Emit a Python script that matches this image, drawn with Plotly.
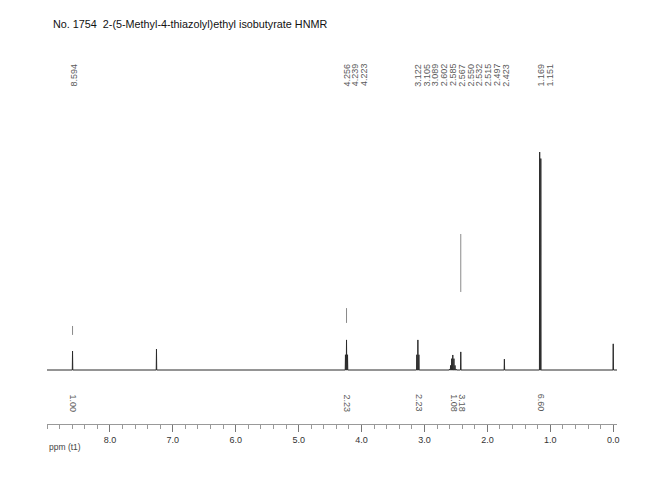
import plotly.graph_objects as go

# ---- data ----
title_text = "No. 1754  2-(5-Methyl-4-thiazolyl)ethyl isobutyrate HNMR"

# spectrum lines: chemical shift (ppm) and relative intensity (tallest = 100)
peak_ppm = [8.594, 7.260, 4.256, 4.239, 4.223, 3.122, 3.105, 3.089,
            2.602, 2.585, 2.567, 2.550, 2.532, 2.515, 2.497, 2.423,
            1.730, 1.169, 1.151, 0.000]
peak_int = [8.7, 9.6, 7.0, 13.8, 7.0, 7.0, 13.8, 7.0,
            0.4, 2.1, 5.2, 6.9, 5.2, 2.1, 0.4, 8.3,
            5.0, 100.0, 97.0, 12.0]

# faint upper segments seen above some peaks
seg_ppm = [8.594, 4.239, 2.423]
seg_lo = [16.1, 21.6, 35.8]
seg_hi = [20.2, 28.4, 62.4]

# peak-pick labels, grouped as printed across the top
label_groups = [
    ["8.594"],
    ["4.256", "4.239", "4.223"],
    ["3.122", "3.105", "3.089", "2.602", "2.585", "2.567", "2.550",
     "2.532", "2.515", "2.497", "2.423"],
    ["1.169", "1.151"],
]

# integrals printed under the baseline
integ_ppm = [8.594, 4.239, 3.105, 2.550, 2.423, 1.160]
integ_val = ["1.00", "2.23", "2.23", "1.08", "3.18", "6.60"]

x_start, x_end = 9.0, -0.06
tick_vals = [8.0, 7.0, 6.0, 5.0, 4.0, 3.0, 2.0, 1.0, 0.0]
tick_text = ["8.0", "7.0", "6.0", "5.0", "4.0", "3.0", "2.0", "1.0", "0.0"]

# ---- build spectrum trace from the peak list ----
hw = 0.004
order = sorted(range(len(peak_ppm)), key=lambda i: -peak_ppm[i])
xs, ys = [x_start], [0.0]
for i in order:
    p, h = peak_ppm[i], peak_int[i]
    xs += [p + hw, p, p - hw]
    ys += [0.0, h, 0.0]
xs.append(x_end)
ys.append(0.0)

fig = go.Figure()
fig.add_trace(go.Scatter(x=xs, y=ys, mode="lines",
                         line=dict(color="#2a2a2a", width=1),
                         hoverinfo="skip", showlegend=False))

sx, sy = [], []
for p, lo, hi in zip(seg_ppm, seg_lo, seg_hi):
    sx += [p, p, None]
    sy += [lo, hi, None]
fig.add_trace(go.Scatter(x=sx, y=sy, mode="lines",
                         line=dict(color="#8a8a8a", width=1),
                         hoverinfo="skip", showlegend=False))

annotations = []
lab_font = dict(family="Liberation Sans, Arial, sans-serif", size=9, color="#5a5a5a")
for grp in label_groups:
    x0 = float(grp[0])
    for k, t in enumerate(grp):
        annotations.append(dict(x=x0, xref="x", y=0.909, yref="paper",
                                text=t, showarrow=False, textangle=-90,
                                xshift=1 + k * 8.8, font=lab_font,
                                xanchor="center", yanchor="middle"))

for p, t in zip(integ_ppm, integ_val):
    annotations.append(dict(x=p, xref="x", y=-15.1, yref="y",
                            text=t, showarrow=False, textangle=90,
                            xshift=1, font=lab_font,
                            xanchor="center", yanchor="middle"))

annotations.append(dict(x=0.0, xref="paper", y=-0.06, yref="paper",
                        text="ppm (t1)", showarrow=False,
                        xanchor="left", yanchor="middle",
                        font=dict(family="Liberation Sans, Arial, sans-serif",
                                  size=8.5, color="#444444")))

fig.update_layout(
    width=650, height=498,
    margin=dict(l=39, r=41, t=32, b=82),
    paper_bgcolor="white", plot_bgcolor="white",
    title=dict(text=title_text, x=45 / 650, xanchor="left",
               y=1 - 16 / 498, yanchor="middle",
               font=dict(family="Liberation Sans, Arial, sans-serif",
                         size=10.8, color="#111111")),
    annotations=annotations,
    xaxis=dict(range=[x_start, x_end], showgrid=False, zeroline=False,
               showline=True, linecolor="#999999", linewidth=1,
               ticks="outside", ticklen=7, tickcolor="#777777",
               tickvals=tick_vals, ticktext=tick_text,
               minor=dict(dtick=0.2, ticks="outside", ticklen=4,
                          tickcolor="#999999", showgrid=False),
               tickfont=dict(family="Liberation Sans, Arial, sans-serif",
                             size=9, color="#333333")),
    yaxis=dict(range=[-24.77, 151.4], visible=False, showgrid=False,
               zeroline=False),
)

fig.write_html("out.html")
